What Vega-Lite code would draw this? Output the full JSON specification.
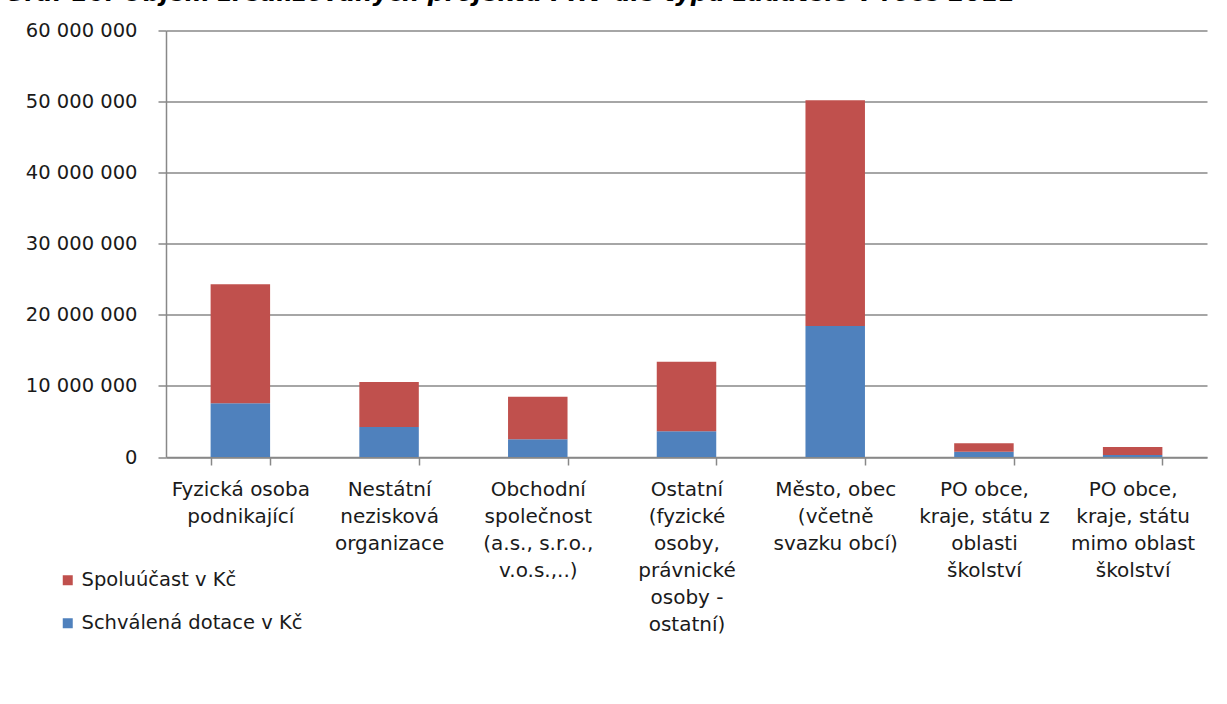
{
  "$schema": "https://vega.github.io/schema/vega-lite/v6.json",
  "autosize": "none",
  "width": 1041,
  "height": 426.5,
  "padding": {"left": 166, "top": 30.5, "right": 20, "bottom": 247},
  "background": "white",
  "title": {
    "text": "Graf 16: Objem zrealizovaných projektů PRV dle typu žadatele v roce 2011",
    "anchor": "start",
    "frame": "group",
    "dx": -161,
    "offset": -4,
    "font": "DejaVu Sans",
    "fontSize": 24,
    "fontWeight": "bold",
    "fontStyle": "italic",
    "color": "black",
    "baseline": "alphabetic"
  },
  "data": {
    "values": [
      {"typ": "Fyzická osoba podnikající", "rada": "Schválená dotace v Kč", "kc": 7550000},
      {"typ": "Fyzická osoba podnikající", "rada": "Spoluúčast v Kč", "kc": 16740000},
      {"typ": "Nestátní nezisková organizace", "rada": "Schválená dotace v Kč", "kc": 4220000},
      {"typ": "Nestátní nezisková organizace", "rada": "Spoluúčast v Kč", "kc": 6330000},
      {"typ": "Obchodní společnost (a.s., s.r.o., v.o.s.,..)", "rada": "Schválená dotace v Kč", "kc": 2490000},
      {"typ": "Obchodní společnost (a.s., s.r.o., v.o.s.,..)", "rada": "Spoluúčast v Kč", "kc": 5990000},
      {"typ": "Ostatní (fyzické osoby, právnické osoby - ostatní)", "rada": "Schválená dotace v Kč", "kc": 3610000},
      {"typ": "Ostatní (fyzické osoby, právnické osoby - ostatní)", "rada": "Spoluúčast v Kč", "kc": 9800000},
      {"typ": "Město, obec (včetně svazku obcí)", "rada": "Schválená dotace v Kč", "kc": 18420000},
      {"typ": "Město, obec (včetně svazku obcí)", "rada": "Spoluúčast v Kč", "kc": 31750000},
      {"typ": "PO obce, kraje, státu z oblasti školství", "rada": "Schválená dotace v Kč", "kc": 750000},
      {"typ": "PO obce, kraje, státu z oblasti školství", "rada": "Spoluúčast v Kč", "kc": 1180000},
      {"typ": "PO obce, kraje, státu mimo oblast školství", "rada": "Schválená dotace v Kč", "kc": 280000},
      {"typ": "PO obce, kraje, státu mimo oblast školství", "rada": "Spoluúčast v Kč", "kc": 1130000}
    ]
  },
  "mark": {"type": "bar", "stroke": null},
  "encoding": {
    "x": {
      "field": "typ",
      "type": "nominal",
      "sort": null,
      "scale": {"paddingInner": 0.6, "paddingOuter": 0.3},
      "axis": {
        "title": null,
        "labelAngle": 0,
        "tickBand": "extent",
        "tickSize": 8,
        "tickColor": "#888888",
        "tickWidth": 1.5,
        "domainColor": "#888888",
        "domainWidth": 1.5,
        "labelFont": "DejaVu Sans",
        "labelFontSize": 20,
        "labelColor": "#1a1a1a",
        "labelLineHeight": 27,
        "labelPadding": 14,
        "labelBaseline": "top",
        "labelLimit": 0,
        "labelExpr": "{'Fyzická osoba podnikající': ['Fyzická osoba','podnikající'], 'Nestátní nezisková organizace': ['Nestátní','nezisková','organizace'], 'Obchodní společnost (a.s., s.r.o., v.o.s.,..)': ['Obchodní','společnost','(a.s., s.r.o.,','v.o.s.,..)'], 'Ostatní (fyzické osoby, právnické osoby - ostatní)': ['Ostatní','(fyzické','osoby,','právnické','osoby -','ostatní)'], 'Město, obec (včetně svazku obcí)': ['Město, obec','(včetně','svazku obcí)'], 'PO obce, kraje, státu z oblasti školství': ['PO obce,','kraje, státu z','oblasti','školství'], 'PO obce, kraje, státu mimo oblast školství': ['PO obce,','kraje, státu','mimo oblast','školství']}[datum.label]"
      }
    },
    "y": {
      "field": "kc",
      "type": "quantitative",
      "stack": "zero",
      "scale": {"domain": [0, 60000000], "nice": false},
      "axis": {
        "title": null,
        "values": [0, 10000000, 20000000, 30000000, 40000000, 50000000, 60000000],
        "labelExpr": "replace(format(datum.value, ',d'), regexp(',', 'g'), ' ')",
        "grid": true,
        "gridColor": "#888888",
        "gridWidth": 1.5,
        "tickSize": 8,
        "tickColor": "#888888",
        "tickWidth": 1.5,
        "domainColor": "#888888",
        "domainWidth": 1.5,
        "labelFont": "DejaVu Sans",
        "labelFontSize": 19.5,
        "labelColor": "#1a1a1a",
        "labelPadding": 21
      }
    },
    "color": {
      "field": "rada",
      "type": "nominal",
      "scale": {"domain": ["Spoluúčast v Kč", "Schválená dotace v Kč"], "range": ["#C0504D", "#4F81BD"]},
      "legend": {
        "title": null,
        "orient": "none",
        "legendX": -108,
        "legendY": 540,
        "symbolType": "square",
        "symbolSize": 100,
        "symbolStrokeWidth": 0,
        "labelFont": "DejaVu Sans",
        "labelFontSize": 19.5,
        "labelColor": "#1a1a1a",
        "labelOffset": 4,
        "labelLimit": 0,
        "rowPadding": 22
      }
    },
    "order": {"field": "rada", "sort": "ascending"}
  },
  "config": {"view": {"stroke": null}}
}
